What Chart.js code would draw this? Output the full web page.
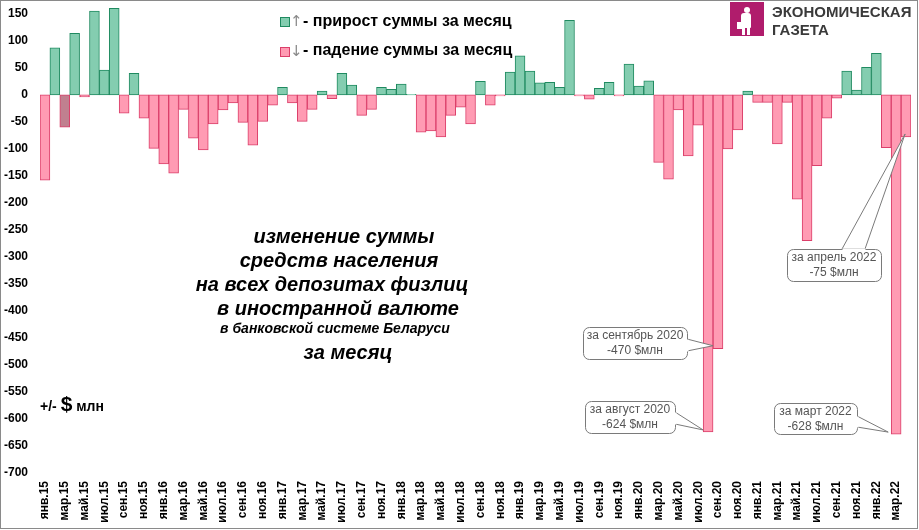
<!DOCTYPE html>
<html>
<head>
<meta charset="utf-8">
<script src="https://cdn.jsdelivr.net/npm/chart.js@4.4.0/dist/chart.umd.min.js"></script>
<style>
    html, body { margin: 0; padding: 0; background: #fff; }
    #wrap { position: relative; width: 919px; height: 530px; overflow: hidden; font-family: "Liberation Sans", Arial, sans-serif; }
    #frame { position: absolute; left: 0; top: 0; width: 918px; height: 529px; box-sizing: border-box; border: 1px solid #8a8a8a; pointer-events: none; }
    canvas { position: absolute; left: 0; top: 0; }
    .t { position: absolute; white-space: nowrap; color: #000; }
    .leg { font-size: 16px; font-weight: bold; }
    .sq { position: absolute; width: 8px; height: 8px; }
    .arr { position: absolute; font-size: 15px; color: #8a8a8a; font-family: "DejaVu Sans", sans-serif; }
    .title { position: absolute; left: 136px; width: 400px; text-align: center; font-weight: bold; font-style: italic; font-size: 20px; white-space: nowrap; }
    .note { position: absolute; text-align: center; color: #555; font-size: 12px; line-height: 15px; white-space: nowrap; }
    .logo-sq { position: absolute; left: 730px; top: 2px; width: 34px; height: 34px; background: #b01c6c; overflow: hidden; }
    .logo-txt { position: absolute; left: 772px; font-weight: bold; font-size: 15px; color: #3a3a3a; }
</style>
</head>
<body>
<div id="wrap">
    <canvas id="dataChart" width="919" height="530"></canvas>

    <div class="sq" style="left:280px; top:17px; background:#84cdb0; border:1px solid #1f8a60;"></div>
    <div class="arr" style="left:290px; top:12px;">↑</div>
    <div class="t leg" style="left:303px; top:12px;">- прирост суммы за месяц</div>
    <div class="sq" style="left:280px; top:47px; background:#ff9bb3; border:1px solid #db3f6a;"></div>
    <div class="arr" style="left:290px; top:42px;">↓</div>
    <div class="t leg" style="left:303px; top:41px;">- падение суммы за месяц</div>

    <div class="logo-sq">
        <div style="position:absolute; left:14px; top:5px; width:6px; height:6px; border-radius:50%; background:#fff;"></div>
        <div style="position:absolute; left:11px; top:11px; width:10px; height:15px; border-radius:3px 3px 1px 1px; background:#fff;"></div>
        <div style="position:absolute; left:12px; top:25px; width:3px; height:8px; background:#fff;"></div>
        <div style="position:absolute; left:17px; top:25px; width:3px; height:8px; background:#fff;"></div>
        <div style="position:absolute; left:7px; top:20px; width:5px; height:7px; background:#fff;"></div>
    </div>
    <div class="logo-txt" style="top:3px;">ЭКОНОМИЧЕСКАЯ</div>
    <div class="logo-txt" style="top:21px;">ГАЗЕТА</div>

    <div class="title" style="top:225px; left:144px;">изменение суммы</div>
    <div class="title" style="top:249px; left:139px;">средств населения</div>
    <div class="title" style="top:273px; left:132px;">на всех депозитах физлиц</div>
    <div class="title" style="top:297px; left:138px;">в иностранной валюте</div>
    <div class="title" style="top:320px; left:135px; font-size:14px;">в банковской системе Беларуси</div>
    <div class="title" style="top:341px; left:148px;">за месяц</div>

    <div class="t" style="left:40px; top:392px; font-weight:bold; font-size:14px;">+/- <span style="font-size:21px;">$</span> млн</div>

    <div id="notes"></div>
    <div id="frame"></div>
</div>

<script>
// подписи месяцев
const monthNames = ['янв', 'фев', 'мар', 'апр', 'май', 'июн', 'июл', 'авг', 'сен', 'окт', 'ноя', 'дек'];
const years = ['15', '16', '17', '18', '19', '20', '21', '22'];

// изменение суммы за месяц, $ млн
const v2015 = [-158, 87, -60, 114, -4, 155, 46, 160, -34, 40, -43, -99];
const v2016 = [-128, -145, -27, -80, -102, -54, -28, -15, -51, -93, -49, -19];
const v2017 = [14, -15, -49, -27, 7, -7, 40, 18, -38, -27, 14, 10];
const v2018 = [20, 1, -69, -67, -78, -38, -23, -54, 25, -19, -2, 42];
const v2019 = [72, 44, 22, 23, 14, 138, -2, -8, 12, 23, -2, 57];
const v2020 = [16, 26, -125, -156, -28, -113, -56, -624, -470, -100, -65, 7];
const v2021 = [-14, -14, -91, -14, -193, -270, -131, -43, -6, 44, 9, 51];
const v2022 = [77, -98, -628, -78];

const yTicks = [150, 100, 50, 0, -50, -100, -150, -200, -250, -300, -350, -400, -450, -500, -550, -600, -650, -700];

const values = [].concat(v2015, v2016, v2017, v2018, v2019, v2020, v2021, v2022);
const categories = [];
years.forEach(y => monthNames.forEach(m => categories.push(m + '.' + y)));
categories.length = values.length;

// выноски
const callouts = [
    {idx: 68, lines: ['за сентябрь 2020', '-470 $млн'], box: [583, 327, 104, 32], base: [[687, 339], [687, 351]], dx: 0, dy: -3},
    {idx: 67, lines: ['за август 2020', '-624 $млн'], box: [585, 401, 90, 32], base: [[675, 412], [675, 424]], dx: 0, dy: -2},
    {idx: 86, lines: ['за март 2022', '-628 $млн'], box: [774, 403, 83, 31], base: [[857, 416], [857, 427]], dx: -3, dy: -2},
    {idx: 87, lines: ['за апрель 2022', '-75 $млн'], box: [787, 249, 94, 32], base: [[842, 249], [865, 249]], dx: 4, dy: -3}
];

const GREEN = '#84cdb0', GREEN_B = '#1f8a60';
const PINK = '#ff9bb3', PINK_B = '#db3f6a';
const DARK = '#c0808f', DARK_IDX = 2;
const FONT = '"Liberation Sans", Arial, sans-serif';

var notes = document.getElementById('notes');
callouts.forEach(c => {
    var d = document.createElement('div');
    d.className = 'note';
    d.style.left = c.box[0] + 'px';
    d.style.top = (c.box[1] + 1) + 'px';
    d.style.width = c.box[2] + 'px';
    d.innerHTML = c.lines.join('<br>');
    notes.appendChild(d);
});

function roundRect(ctx, x, y, w, h, r) {
    ctx.beginPath();
    ctx.moveTo(x + r, y);
    ctx.arcTo(x + w, y, x + w, y + h, r);
    ctx.arcTo(x + w, y + h, x, y + h, r);
    ctx.arcTo(x, y + h, x, y, r);
    ctx.arcTo(x, y, x + w, y, r);
    ctx.closePath();
}

const calloutPlugin = {
    id: 'callouts',
    afterDatasetsDraw(chart) {
        var ctx = chart.ctx;
        var meta = chart.getDatasetMeta(0);
        ctx.save();
        ctx.lineWidth = 1;
        callouts.forEach(c => {
            var bar = meta.data[c.idx];
            var tx = bar.x - bar.width / 2 + c.dx;
            var ty = bar.y + c.dy;
            var b = c.box;
            // хвост
            ctx.beginPath();
            ctx.moveTo(c.base[0][0], c.base[0][1]);
            ctx.lineTo(tx, ty);
            ctx.lineTo(c.base[1][0], c.base[1][1]);
            ctx.closePath();
            ctx.fillStyle = '#fff';
            ctx.fill();
            ctx.strokeStyle = '#7a7a7a';
            ctx.stroke();
            // рамка
            roundRect(ctx, b[0] + 0.5, b[1] + 0.5, b[2], b[3], 6);
            ctx.fillStyle = '#fff';
            ctx.fill();
            ctx.stroke();
            // стык хвоста с рамкой
            ctx.beginPath();
            ctx.moveTo(c.base[0][0] + 0.5, c.base[0][1] + 0.5);
            ctx.lineTo(c.base[1][0] + 0.5, c.base[1][1] + 0.5);
            ctx.strokeStyle = '#fff';
            ctx.lineWidth = 2;
            ctx.stroke();
            ctx.lineWidth = 1;
        });
        ctx.restore();
    }
};

document.addEventListener('DOMContentLoaded', function () {
    var ctx = document.getElementById('dataChart').getContext('2d');
    var myChart = new Chart(ctx, {
        type: 'bar',
        data: {
            labels: categories,
            datasets: [{
                data: values,
                backgroundColor: c => c.dataIndex === DARK_IDX ? DARK : (c.raw >= 0 ? GREEN : PINK),
                borderColor: c => c.dataIndex === DARK_IDX ? PINK_B : (c.raw >= 0 ? GREEN_B : PINK_B),
                borderWidth: 1,
                borderSkipped: false,
                barPercentage: 1,
                categoryPercentage: 1
            }]
        },
        options: {
            responsive: false,
            animation: false,
            layout: {padding: {left: 0, right: 8, top: 3, bottom: 0}},
            plugins: {legend: {display: false}, tooltip: {enabled: false}},
            scales: {
                x: {
                    afterFit: a => { a.height = 57; a.paddingLeft = 0; a.paddingRight = 0; },
                    grid: {display: false, drawTicks: false},
                    border: {display: false},
                    ticks: {
                        autoSkip: false,
                        maxRotation: 90,
                        minRotation: 90,
                        padding: 8,
                        color: '#000',
                        font: {family: FONT, size: 12, weight: 'bold'},
                        callback: (v, i) => i % 2 === 0 ? categories[i] : ''
                    }
                },
                y: {
                    min: -700,
                    max: 170,
                    afterBuildTicks: a => { a.ticks = yTicks.map(v => ({value: v})); },
                    afterFit: a => { a.width = 40; a.paddingTop = 0; a.paddingBottom = 0; },
                    grid: {display: false, drawTicks: false},
                    border: {display: false},
                    ticks: {
                        padding: 12,
                        color: '#000',
                        font: {family: FONT, size: 12, weight: 'bold'}
                    }
                }
            }
        },
        plugins: [calloutPlugin]
    });
});
</script>
</body>
</html>
